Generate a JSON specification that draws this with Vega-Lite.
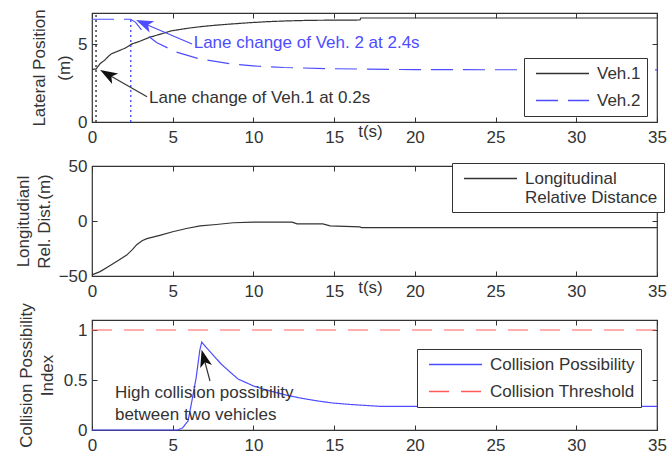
{
  "$schema": "https://vega.github.io/schema/vega-lite/v6.json",
  "background": "white",
  "padding": {"left": 13, "top": 8, "right": 0, "bottom": 0},
  "bounds": "flush",
  "spacing": 44,
  "config": {
    "font": "Liberation Sans",
    "view": {"stroke": "#333333", "strokeWidth": 1.2},
    "axis": {
      "labelFont": "Liberation Sans", "labelFontSize": 17, "labelColor": "#333333",
      "titleFont": "Liberation Sans", "titleFontSize": 17, "titleFontWeight": "normal", "titleColor": "#333333",
      "titleLineHeight": 21,
      "domain": false, "grid": false, "tickColor": "#333333", "tickSize": -5, "tickWidth": 1,
      "labelFlush": false, "labelOverlap": false
    },
    "axisX": {"labelPadding": 12},
    "axisY": {"labelPadding": 10},
    "legend": {
      "labelFont": "Liberation Sans", "labelFontSize": 17, "labelColor": "#333333",
      "symbolType": "stroke", "symbolSize": 2809, "symbolStrokeWidth": 1.3, "symbolOffset": 5,
      "clipHeight": 19, "rowPadding": 8, "labelOffset": 7, "padding": 6,
      "strokeColor": "#333333", "fillColor": "white", "labelLimit": 400, "cornerRadius": 0
    },
    "text": {"font": "Liberation Sans", "fontSize": 17}
  },
  "datasets": {
    "lateral": [
      {"t": 0, "y": 3.38, "veh": "Veh.1"}, {"t": 0.25, "y": 3.4, "veh": "Veh.1"}, {"t": 0.5, "y": 3.75, "veh": "Veh.1"},
      {"t": 0.8, "y": 3.98, "veh": "Veh.1"}, {"t": 1.0, "y": 4.2, "veh": "Veh.1"}, {"t": 1.2, "y": 4.38, "veh": "Veh.1"},
      {"t": 1.6, "y": 4.55, "veh": "Veh.1"}, {"t": 2.0, "y": 4.72, "veh": "Veh.1"}, {"t": 2.5, "y": 5.02, "veh": "Veh.1"},
      {"t": 3.0, "y": 5.2, "veh": "Veh.1"}, {"t": 3.6, "y": 5.45, "veh": "Veh.1"}, {"t": 4.2, "y": 5.63, "veh": "Veh.1"},
      {"t": 4.9, "y": 5.85, "veh": "Veh.1"}, {"t": 5.8, "y": 6.0, "veh": "Veh.1"}, {"t": 6.7, "y": 6.12, "veh": "Veh.1"},
      {"t": 7.7, "y": 6.22, "veh": "Veh.1"}, {"t": 8.7, "y": 6.3, "veh": "Veh.1"}, {"t": 9.8, "y": 6.38, "veh": "Veh.1"},
      {"t": 10.8, "y": 6.44, "veh": "Veh.1"}, {"t": 12.0, "y": 6.49, "veh": "Veh.1"}, {"t": 13.5, "y": 6.53, "veh": "Veh.1"},
      {"t": 15.0, "y": 6.54, "veh": "Veh.1"}, {"t": 16.6, "y": 6.55, "veh": "Veh.1"}, {"t": 16.65, "y": 6.68, "veh": "Veh.1"},
      {"t": 35, "y": 6.68, "veh": "Veh.1"},
      {"t": 0, "y": 6.6, "veh": "Veh.2"}, {"t": 2.4, "y": 6.6, "veh": "Veh.2"}, {"t": 2.7, "y": 6.4, "veh": "Veh.2"},
      {"t": 3.2, "y": 5.75, "veh": "Veh.2"}, {"t": 4.0, "y": 5.1, "veh": "Veh.2"}, {"t": 5.2, "y": 4.5, "veh": "Veh.2"},
      {"t": 6.7, "y": 4.04, "veh": "Veh.2"}, {"t": 8.7, "y": 3.72, "veh": "Veh.2"}, {"t": 10.3, "y": 3.58, "veh": "Veh.2"},
      {"t": 11.9, "y": 3.5, "veh": "Veh.2"}, {"t": 14.9, "y": 3.42, "veh": "Veh.2"}, {"t": 20, "y": 3.36, "veh": "Veh.2"},
      {"t": 35, "y": 3.35, "veh": "Veh.2"}
    ],
    "longi": [
      {"t": 0, "d": -49, "s": "Longitudinal Relative Distance"}, {"t": 0.5, "d": -46, "s": "Longitudinal Relative Distance"},
      {"t": 1.0, "d": -41.5, "s": "Longitudinal Relative Distance"}, {"t": 1.5, "d": -37, "s": "Longitudinal Relative Distance"},
      {"t": 2.15, "d": -31, "s": "Longitudinal Relative Distance"}, {"t": 2.5, "d": -26, "s": "Longitudinal Relative Distance"},
      {"t": 2.77, "d": -21.5, "s": "Longitudinal Relative Distance"}, {"t": 3.1, "d": -18, "s": "Longitudinal Relative Distance"},
      {"t": 3.4, "d": -16, "s": "Longitudinal Relative Distance"}, {"t": 4.2, "d": -13, "s": "Longitudinal Relative Distance"},
      {"t": 5.0, "d": -9.8, "s": "Longitudinal Relative Distance"}, {"t": 5.85, "d": -6.8, "s": "Longitudinal Relative Distance"},
      {"t": 6.7, "d": -4.5, "s": "Longitudinal Relative Distance"}, {"t": 7.7, "d": -3.2, "s": "Longitudinal Relative Distance"},
      {"t": 8.75, "d": -1.6, "s": "Longitudinal Relative Distance"}, {"t": 10, "d": -1.1, "s": "Longitudinal Relative Distance"},
      {"t": 12.4, "d": -1.1, "s": "Longitudinal Relative Distance"}, {"t": 12.7, "d": -2.6, "s": "Longitudinal Relative Distance"},
      {"t": 14.3, "d": -2.6, "s": "Longitudinal Relative Distance"}, {"t": 14.75, "d": -4.4, "s": "Longitudinal Relative Distance"},
      {"t": 16.6, "d": -5.4, "s": "Longitudinal Relative Distance"}, {"t": 16.7, "d": -6.1, "s": "Longitudinal Relative Distance"},
      {"t": 35, "d": -6.1, "s": "Longitudinal Relative Distance"}
    ],
    "collision": [
      {"t": 0, "v": 0, "s": "Collision Possibility"}, {"t": 5.3, "v": 0, "s": "Collision Possibility"},
      {"t": 5.6, "v": 0.02, "s": "Collision Possibility"}, {"t": 5.95, "v": 0.09, "s": "Collision Possibility"},
      {"t": 6.2, "v": 0.3, "s": "Collision Possibility"}, {"t": 6.45, "v": 0.52, "s": "Collision Possibility"},
      {"t": 6.68, "v": 0.8, "s": "Collision Possibility"}, {"t": 6.8, "v": 0.88, "s": "Collision Possibility"},
      {"t": 7.0, "v": 0.84, "s": "Collision Possibility"}, {"t": 7.5, "v": 0.75, "s": "Collision Possibility"},
      {"t": 8.0, "v": 0.66, "s": "Collision Possibility"}, {"t": 8.55, "v": 0.58, "s": "Collision Possibility"},
      {"t": 9.05, "v": 0.51, "s": "Collision Possibility"}, {"t": 10.0, "v": 0.44, "s": "Collision Possibility"},
      {"t": 10.8, "v": 0.4, "s": "Collision Possibility"}, {"t": 12.0, "v": 0.35, "s": "Collision Possibility"},
      {"t": 12.9, "v": 0.32, "s": "Collision Possibility"}, {"t": 14.0, "v": 0.29, "s": "Collision Possibility"},
      {"t": 14.9, "v": 0.27, "s": "Collision Possibility"}, {"t": 16.0, "v": 0.255, "s": "Collision Possibility"},
      {"t": 17.0, "v": 0.245, "s": "Collision Possibility"}, {"t": 17.8, "v": 0.237, "s": "Collision Possibility"},
      {"t": 35, "v": 0.237, "s": "Collision Possibility"},
      {"t": 0, "v": 1, "s": "Collision Threshold"}, {"t": 35, "v": 1, "s": "Collision Threshold"}
    ]
  },
  "resolve": {
    "scale": {"x": "independent", "y": "independent", "color": "independent", "strokeDash": "independent"},
    "legend": {"color": "independent", "strokeDash": "independent"}
  },
  "vconcat": [
    {
      "width": 565, "height": 109,
      "layer": [
        {
          "data": {"name": "lateral"},
          "mark": {"type": "line", "strokeWidth": 1.2},
          "encoding": {
            "x": {"field": "t", "type": "quantitative", "scale": {"domain": [0, 35], "nice": false, "zero": false},
                  "axis": {"orient": "bottom", "values": [0, 5, 10, 15, 20, 25, 30, 35], "title": null}},
            "y": {"field": "y", "type": "quantitative", "scale": {"domain": [0, 7], "nice": false},
                  "axis": {"orient": "left", "values": [0, 5], "title": ["Lateral Position", "(m)"], "titlePadding": 4, "titleLineHeight": 25}},
            "color": {"field": "veh", "type": "nominal", "scale": {"domain": ["Veh.1", "Veh.2"], "range": ["#333333", "#4d4dff"]},
                      "legend": {"title": null, "orient": "none", "legendX": 432, "legendY": 45}},
            "strokeDash": {"field": "veh", "type": "nominal", "scale": {"domain": ["Veh.1", "Veh.2"], "range": [[1, 0], [22, 10]]},
                      "legend": {"title": null, "orient": "none", "legendX": 432, "legendY": 45}}
          }
        },
        {
          "data": {"values": [{"t": 0.25, "y": 0, "y2": 7}]},
          "mark": {"type": "rule", "color": "#333333", "strokeDash": [2, 3], "strokeWidth": 1.4},
          "encoding": {
            "x": {"field": "t", "type": "quantitative", "axis": {"orient": "top", "values": [0, 5, 10, 15, 20, 25, 30, 35], "labels": false, "title": null}},
            "y": {"field": "y", "type": "quantitative", "axis": {"orient": "right", "values": [0, 5], "labels": false, "title": null}},
            "y2": {"field": "y2"}
          }
        },
        {
          "data": {"values": [{"t": 2.4, "y": 0, "y2": 6.6}]},
          "mark": {"type": "rule", "color": "#4d4dff", "strokeDash": [2, 3], "strokeWidth": 1.4},
          "encoding": {
            "x": {"field": "t", "type": "quantitative", "axis": null},
            "y": {"field": "y", "type": "quantitative", "axis": null},
            "y2": {"field": "y2"}
          }
        },
        {
          "data": {"values": [{"t": 6.2, "y": 5.01, "t2": 3.22, "y2": 6.33}]},
          "mark": {"type": "rule", "color": "#4d4dff", "strokeWidth": 1.2},
          "encoding": {
            "x": {"field": "t", "type": "quantitative", "axis": null},
            "y": {"field": "y", "type": "quantitative", "axis": null},
            "x2": {"field": "t2"}, "y2": {"field": "y2"}
          }
        },
        {
          "data": {"values": [{"t": 3.22, "y": 6.33}]},
          "mark": {"type": "point", "shape": "M0,-1L0.7,1L0,0.5L-0.7,1Z", "filled": true, "opacity": 1, "color": "#4d4dff", "size": 300, "angle": 293},
          "encoding": {
            "x": {"field": "t", "type": "quantitative", "axis": null},
            "y": {"field": "y", "type": "quantitative", "axis": null}
          }
        },
        {
          "data": {"values": [{"t": 3.41, "y": 1.62, "t2": 0.97, "y2": 3.06}]},
          "mark": {"type": "rule", "color": "#333333", "strokeWidth": 1.2},
          "encoding": {
            "x": {"field": "t", "type": "quantitative", "axis": null},
            "y": {"field": "y", "type": "quantitative", "axis": null},
            "x2": {"field": "t2"}, "y2": {"field": "y2"}
          }
        },
        {
          "data": {"values": [{"t": 0.97, "y": 3.06}]},
          "mark": {"type": "point", "shape": "M0,-1L0.7,1L0,0.5L-0.7,1Z", "filled": true, "opacity": 1, "color": "#111111", "size": 300, "angle": 300},
          "encoding": {
            "x": {"field": "t", "type": "quantitative", "axis": null},
            "y": {"field": "y", "type": "quantitative", "axis": null}
          }
        },
        {
          "data": {"values": [{"t": 6.3, "y": 5.08, "label": "Lane change of Veh. 2 at 2.4s"}]},
          "mark": {"type": "text", "align": "left", "baseline": "middle", "color": "#4d4dff"},
          "encoding": {
            "x": {"field": "t", "type": "quantitative", "axis": null},
            "y": {"field": "y", "type": "quantitative", "axis": null},
            "text": {"field": "label"}
          }
        },
        {
          "data": {"values": [{"t": 3.53, "y": 1.57, "label": "Lane change of Veh.1 at 0.2s"}]},
          "mark": {"type": "text", "align": "left", "baseline": "middle", "color": "#333333"},
          "encoding": {
            "x": {"field": "t", "type": "quantitative", "axis": null},
            "y": {"field": "y", "type": "quantitative", "axis": null},
            "text": {"field": "label"}
          }
        },
        {
          "data": {"values": [{"t": 17.25, "y": -0.67, "label": "t(s)"}]},
          "mark": {"type": "text", "align": "center", "baseline": "middle", "color": "#333333"},
          "encoding": {
            "x": {"field": "t", "type": "quantitative", "axis": null},
            "y": {"field": "y", "type": "quantitative", "axis": null},
            "text": {"field": "label"}
          }
        }
      ],
      "resolve": {"axis": {"x": "independent", "y": "independent"}}
    },
    {
      "width": 565, "height": 110,
      "layer": [
        {
          "data": {"name": "longi"},
          "mark": {"type": "line", "strokeWidth": 1.2},
          "encoding": {
            "x": {"field": "t", "type": "quantitative", "scale": {"domain": [0, 35], "nice": false, "zero": false},
                  "axis": {"orient": "bottom", "values": [0, 5, 10, 15, 20, 25, 30, 35], "title": null}},
            "y": {"field": "d", "type": "quantitative", "scale": {"domain": [-50, 50], "nice": false},
                  "axis": {"orient": "left", "values": [-50, 0, 50], "title": ["Longitudianl", "Rel. Dist.(m)"], "titlePadding": 5}},
            "color": {"field": "s", "type": "nominal", "scale": {"domain": ["Longitudinal Relative Distance"], "range": ["#333333"]},
                      "legend": {"title": null, "orient": "none", "legendX": 360, "legendY": -3, "labelExpr": "['Longitudinal', 'Relative Distance']"}}
          }
        },
        {
          "data": {"values": [{"t": 17.25, "d": -61, "label": "t(s)"}]},
          "mark": {"type": "text", "align": "center", "baseline": "middle", "color": "#333333"},
          "encoding": {
            "x": {"field": "t", "type": "quantitative", "axis": {"orient": "top", "values": [0, 5, 10, 15, 20, 25, 30, 35], "labels": false, "title": null}},
            "y": {"field": "d", "type": "quantitative", "axis": {"orient": "right", "values": [-50, 0, 50], "labels": false, "title": null}},
            "text": {"field": "label"}
          }
        }
      ],
      "resolve": {"axis": {"x": "independent", "y": "independent"}}
    },
    {
      "width": 565, "height": 110,
      "layer": [
        {
          "data": {"name": "collision"},
          "mark": {"type": "line", "strokeWidth": 1.2},
          "encoding": {
            "x": {"field": "t", "type": "quantitative", "scale": {"domain": [0, 35], "nice": false, "zero": false},
                  "axis": {"orient": "bottom", "values": [0, 5, 10, 15, 20, 25, 30, 35], "title": null}},
            "y": {"field": "v", "type": "quantitative", "scale": {"domain": [0, 1.1], "nice": false},
                  "axis": {"orient": "left", "values": [0, 0.5, 1], "format": "~g", "title": ["Collision Possibility", "Index"], "titlePadding": 7}},
            "color": {"field": "s", "type": "nominal", "scale": {"domain": ["Collision Possibility", "Collision Threshold"], "range": ["#4d4dff", "#ff5a5a"]},
                      "legend": {"title": null, "orient": "none", "legendX": 325, "legendY": 29}},
            "strokeDash": {"field": "s", "type": "nominal", "scale": {"domain": ["Collision Possibility", "Collision Threshold"], "range": [[1, 0], [20, 12]]},
                      "legend": {"title": null, "orient": "none", "legendX": 325, "legendY": 29}}
          }
        },
        {
          "data": {"values": [{"t": 1.42, "v": 0.37, "label": "High collision possibility"}, {"t": 1.42, "v": 0.155, "label": "between two vehicles"}]},
          "mark": {"type": "text", "align": "left", "baseline": "middle", "color": "#333333"},
          "encoding": {
            "x": {"field": "t", "type": "quantitative", "axis": {"orient": "top", "values": [0, 5, 10, 15, 20, 25, 30, 35], "labels": false, "title": null}},
            "y": {"field": "v", "type": "quantitative", "axis": {"orient": "right", "values": [0, 0.5, 1], "labels": false, "title": null}},
            "text": {"field": "label"}
          }
        },
        {
          "data": {"values": [{"t": 7.31, "v": 0.49, "t2": 6.93, "v2": 0.719}]},
          "mark": {"type": "rule", "color": "#333333", "strokeWidth": 1.2},
          "encoding": {
            "x": {"field": "t", "type": "quantitative", "axis": null},
            "y": {"field": "v", "type": "quantitative", "axis": null},
            "x2": {"field": "t2"}, "y2": {"field": "v2"}
          }
        },
        {
          "data": {"values": [{"t": 6.93, "v": 0.719}]},
          "mark": {"type": "point", "shape": "M0,-1L0.7,1L0,0.5L-0.7,1Z", "filled": true, "opacity": 1, "color": "#111111", "size": 300, "angle": 345},
          "encoding": {
            "x": {"field": "t", "type": "quantitative", "axis": null},
            "y": {"field": "v", "type": "quantitative", "axis": null}
          }
        }
      ],
      "resolve": {"axis": {"x": "independent", "y": "independent"}}
    }
  ]
}
